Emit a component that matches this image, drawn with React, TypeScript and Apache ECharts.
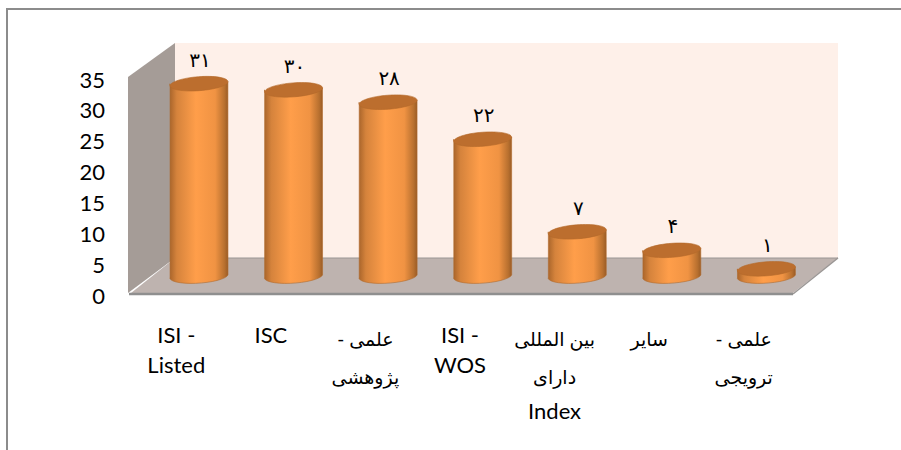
import React, { useEffect, useRef } from "react";
import * as echarts from "echarts";

const categories = ["ISI -\nListed", "ISC", "علمی -\nپژوهشی", "ISI -\nWOS", "بین المللی\nدارای\nIndex", "سایر", "علمی -\nترویجی"];
const values = [31, 30, 28, 22, 7, 4, 1];
const yTicks = { min: 0, max: 35, interval: 5 };

const FONT = 'Lato, "DejaVu Sans", sans-serif';
const DX = 22.7, DY = -20, RX = 29, RY = 7, TILT = 0.075;

const faDigits = (n: number) => String(n).replace(/\d/g, (d) => "۰۱۲۳۴۵۶۷۸۹"[+d]);
const hasArabic = (s: string) => /[\u0600-\u06FF]/.test(s);
const catLabel = (v: string) =>
  v.split("\n").map((l) => (hasArabic(l) ? `{p|${l}\u200F}` : `{l|${l}}`)).join("\n");

const bodyFill = new echarts.graphic.LinearGradient(0, 0, 1, 0, [
  { offset: 0, color: "#A9652B" },
  { offset: 0.12, color: "#D5833C" },
  { offset: 0.45, color: "#FF9E4A" },
  { offset: 0.78, color: "#F09343" },
  { offset: 0.94, color: "#B8702F" },
  { offset: 1, color: "#9A5C26" },
]);

function renderCylinder(params: any, api: any) {
  const idx = api.value(0);
  const top = api.coord([idx, api.value(1)]);
  const base = api.coord([idx, 0]);
  const cx = top[0] + DX;
  const ty = top[1] + DY;
  const by = base[1] + DY;
  const ex = RX * Math.cos(TILT);
  const ey = RX * Math.sin(TILT);
  const deg = (-TILT * 180) / Math.PI;
  const d =
    `M ${cx - ex} ${ty + ey} L ${cx - ex} ${by + ey} ` +
    `A ${RX} ${RY} ${deg} 0 0 ${cx + ex} ${by - ey} ` +
    `L ${cx + ex} ${ty - ey} ` +
    `A ${RX} ${RY} ${deg} 0 1 ${cx - ex} ${ty + ey} Z`;
  return {
    type: "group",
    children: [
      { type: "path", shape: { pathData: d }, style: { fill: bodyFill, stroke: "#B06A2C", lineWidth: 0.6 } },
      {
        type: "ellipse",
        shape: { cx: 0, cy: 0, rx: RX, ry: RY },
        x: cx,
        y: ty,
        rotation: TILT,
        style: { fill: "#BC6E2E", stroke: "#B5692A", lineWidth: 0.6 },
      },
      {
        type: "text",
        style: {
          x: cx + 1,
          y: ty - 25,
          text: faDigits(api.value(1)),
          fill: "#000",
          font: `20px ${FONT}`,
          align: "center",
          verticalAlign: "middle",
        },
      },
    ],
  };
}

export default function App() {
  const ref = useRef<HTMLDivElement>(null);
  useEffect(() => {
    const chart = echarts.init(ref.current!, null, { renderer: "svg" });
    chart.setOption({
      animation: false,
      backgroundColor: "#fff",
      grid: { left: 129, right: 110, top: 79, bottom: 155 },
      xAxis: {
        type: "category",
        data: categories,
        axisLine: { show: false },
        axisTick: { show: false },
        axisLabel: {
          interval: 0,
          margin: 24,
          formatter: catLabel,
          color: "#000",
          rich: {
            l: { fontFamily: FONT, fontSize: 22, lineHeight: 30, color: "#000" },
            p: { fontFamily: FONT, fontSize: 19, lineHeight: 38, color: "#000" },
          },
        },
      },
      yAxis: {
        type: "value",
        ...yTicks,
        axisLine: { show: false },
        axisTick: { show: false },
        splitLine: { show: false },
        axisLabel: { margin: 24, color: "#000", fontFamily: FONT, fontSize: 22 },
      },
      graphic: [
        { type: "polyline", shape: { points: [[7, 450], [7, 9], [901, 9]] }, style: { fill: "none", stroke: "#8C8C8C", lineWidth: 2 } },
        { type: "rect", shape: { x: 175, y: 43, width: 663, height: 216 }, style: { fill: "#FEF0E9" } },
        { type: "polygon", shape: { points: [[128, 77], [175, 43], [175, 258], [128, 293]] }, style: { fill: "#A59C97" } },
        { type: "polygon", shape: { points: [[131, 293], [175, 258], [838, 258], [793, 293]] }, style: { fill: "#BEB3AF" } },
        { type: "line", shape: { x1: 175, y1: 258, x2: 838, y2: 258 }, style: { stroke: "#9A9694", lineWidth: 1 } },
        { type: "line", shape: { x1: 129, y1: 294, x2: 793, y2: 294 }, style: { stroke: "#8F8F8F", lineWidth: 2.5 } },
        { type: "line", shape: { x1: 793, y1: 294, x2: 838, y2: 258 }, style: { stroke: "#9A9694", lineWidth: 1.5 } },
      ],
      series: [
        {
          type: "custom",
          renderItem: renderCylinder,
          encode: { x: 0, y: 1 },
          data: values.map((v, i) => [i, v]),
          clip: false,
        },
      ],
    });
    return () => chart.dispose();
  }, []);
  return <div ref={ref} style={{ position: "absolute", left: 0, top: 0, width: 901, height: 450 }} />;
}
